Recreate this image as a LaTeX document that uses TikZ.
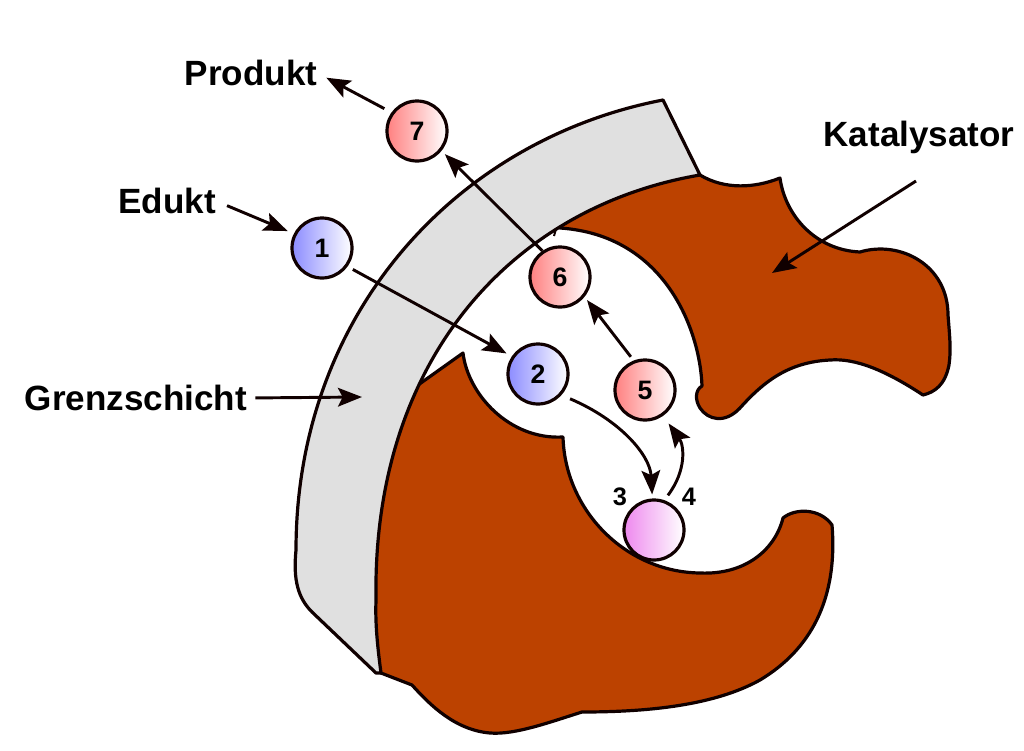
\documentclass[tikz,border=0pt]{standalone}
\usepackage{fontspec}
\setmainfont{Liberation Sans}
\usetikzlibrary{arrows.meta}
\definecolor{brownfill}{HTML}{BC4200}
\definecolor{greyfill}{HTML}{E0E0E0}
\definecolor{inkline}{HTML}{100000}
\definecolor{ballblue}{HTML}{8C8CFF}
\definecolor{ballred}{HTML}{FF8080}
\definecolor{ballpink}{HTML}{EE88EE}
\tikzset{
  outline/.style={draw=inkline,line width=2.4pt,line join=round},
  arr/.style={draw=inkline,line width=2.2pt,-{Stealth[length=18pt,width=14pt,inset=3.5pt]}},
  ball/.style={circle,draw=inkline,line width=2.4pt,minimum size=45pt,inner sep=0pt,font=\fontsize{20}{22}\selectfont\bfseries,right color=white},
  blueball/.style={ball,left color=ballblue},
  redball/.style={ball,left color=ballred},
  pinkball/.style={ball,left color=ballpink},
  lab/.style={inner sep=0pt,font=\fontsize{26.3}{30}\selectfont\bfseries},
  numlab/.style={inner sep=0pt,font=\fontsize{19}{21}\selectfont\bfseries}
}
\begin{document}
\begin{tikzpicture}[x=0.75pt,y=-0.75pt]
\useasboundingbox (0,0) rectangle (1024,750);
% upper catalyst lobe (its hidden edge runs under the boundary layer)
\draw[outline,fill=brownfill] (700,175)
  .. controls (725,190) and (755,188) .. (780,178)
  .. controls (785,215) and (815,250) .. (860,252)
  .. controls (900,240) and (948,265) .. (948,315)
  .. controls (950,340) and (951,350) .. (949,365)
  .. controls (945,385) and (935,392) .. (923,395)
  .. controls (885,370) and (855,358) .. (830,360)
  .. controls (790,362) and (765,380) .. (740,408)
  .. controls (725,424) and (708,420) .. (700,408)
  .. controls (695,400) and (695,390) .. (702,386)
  .. controls (700,330) and (665,235) .. (560,228)
  -- (545,215) -- (680,165) -- cycle;
\draw[outline,line width=1.5pt] (556,229) -- (554,236);
% lower catalyst lobe
\draw[outline,fill=brownfill] (404,395) -- (463,353)
  .. controls (468,395) and (510,440) .. (563,437)
  .. controls (565,510) and (625,572) .. (700,573)
  .. controls (745,575) and (775,550) .. (783,518)
  .. controls (795,508) and (820,508) .. (832,525)
  .. controls (838,600) and (810,650) .. (760,680)
  .. controls (715,705) and (650,712) .. (582,712)
  .. controls (550,722) and (515,735) .. (490,733)
  .. controls (455,730) and (430,705) .. (412,685)
  -- (381,673) -- (365,640) -- (355,500) -- cycle;
% boundary layer
\draw[outline,fill=greyfill] (663,100)
  .. controls (455,140) and (296,315) .. (296,550)
  .. controls (293,580) and (298,598) .. (312,612)
  -- (376,673) -- (381,673)
  .. controls (378,650) and (375,625) .. (376,600)
  .. controls (372,360) and (512,207) .. (700,175)
  -- cycle;
% particles
\node[blueball] (n1) at (322,248) {1};
\node[blueball] (n2) at (538,374) {2};
\node[pinkball] (n3) at (654,530) {};
\node[redball] (n5) at (645,390) {5};
\node[redball] (n6) at (560,277) {6};
\node[redball] (n7) at (417,131) {7};
% labels
\node[lab] (prod) at (251,73) {Produkt};
\node[lab] (edukt) at (167,201) {Edukt};
\node[lab] (grenz) at (136,398) {Grenzschicht};
\node[lab] (kat) at (919,137) {Katalysator};
\node[numlab] (l3) at (620,497) {3};
\node[numlab] (l4) at (689,497) {4};
\coordinate (katstart) at (916,181);
\coordinate (katend) at (772,273);
\coordinate (grenzend) at (362,397);
% arrows
\draw[arr,shorten <=6pt,shorten >=7.5pt] (n7.144) -- (prod.east);
\draw[arr,shorten >=3.5pt] (n6.124) -- (n7.-39);
\draw[arr,shorten <=9pt,shorten >=5pt] (edukt.east) -- (n1.153);
\draw[arr,shorten <=4.5pt,shorten >=4.5pt] (n1.-36) -- (n2.146);
\draw[arr,shorten <=6pt] (grenz.east) -- (grenzend);
\draw[arr] (katstart) -- (katend);
\draw[arr,shorten <=3.5pt,shorten >=3pt] (n5.111) -- (n6.-39);
\draw[arr,shorten <=7pt,shorten >=3pt] (n2.-42) .. controls (620,420) and (650,455) .. (n3.93);
\draw[arr,shorten <=4.5pt,shorten >=7pt] (n3.71) .. controls (687,470) and (684,445) .. (n5.-55);
\end{tikzpicture}
\end{document}
